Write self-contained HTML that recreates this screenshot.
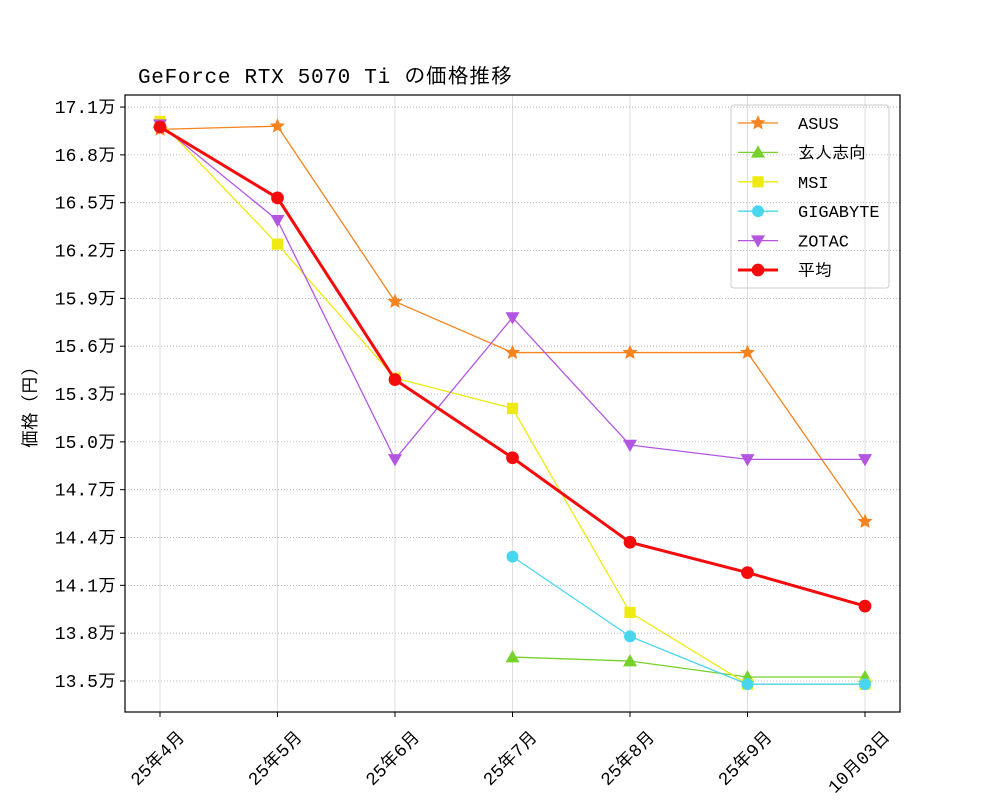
<!DOCTYPE html>
<html><head><meta charset="utf-8"><style>
body{margin:0;background:#fff}
svg text{font-family:"Liberation Mono","IPAGothic","Noto Sans CJK JP",monospace;fill:#000}
</style></head><body>
<svg id="chart" width="1000" height="800" xmlns="http://www.w3.org/2000/svg">
<rect width="1000" height="800" fill="#fff"/>
<g id="grid"></g><g id="series"></g><g id="axes"></g>
</svg>
<script>
const categories=["25年4月","25年5月","25年6月","25年7月","25年8月","25年9月","10月03日"];
const yTicks=[13.5,13.8,14.1,14.4,14.7,15.0,15.3,15.6,15.9,16.2,16.5,16.8,17.1];
const asus=[16.96,16.98,15.88,15.56,15.56,15.56,14.50];
const kurouto=[null,null,null,13.65,13.625,13.525,13.525];
const msi=[17.01,16.24,15.40,15.21,13.93,13.48,13.48];
const gigabyte=[null,null,null,14.28,13.78,13.48,13.48];
const zotac=[16.99,16.39,14.89,15.78,14.98,14.89,14.89];
const average=[16.975,16.53,15.39,14.90,14.37,14.18,13.97];
const seriesNames=["ASUS","玄人志向","MSI","GIGABYTE","ZOTAC","平均"];

const NS="http://www.w3.org/2000/svg";
const L=125,R=900,T=95,B=712;
const xs=i=>160+i*(865-160)/(categories.length-1);
const ys=v=>681-(v-13.5)/0.3*47.83;
function mk(tag,attrs,parent){const e=document.createElementNS(NS,tag);for(const k in attrs)e.setAttribute(k,attrs[k]);parent.appendChild(e);return e;}
const grid=document.getElementById('grid'),ser=document.getElementById('series'),ax=document.getElementById('axes');
categories.forEach((c,i)=>{
 const g=mk('line',{x1:xs(i),x2:xs(i),y1:T,y2:B,stroke:'#ddd','stroke-width':1},grid);
 
 mk('line',{x1:xs(i),x2:xs(i),y1:B,y2:B+5,stroke:'#000'},ax);
 const t=mk('text',{x:0,y:0,'font-size':18,'text-anchor':'end',transform:`translate(${xs(i)+26},${B+26}) rotate(-45)`},ax);
 t.textContent=c;
});
yTicks.forEach(v=>{
 const g=mk('line',{x1:L,x2:R,y1:ys(v),y2:ys(v),stroke:'#aaa','stroke-width':0.8,'stroke-dasharray':'1,2'},grid);
 
 mk('line',{x1:L-5,x2:L,y1:ys(v),y2:ys(v),stroke:'#000'},ax);
 const t=mk('text',{x:L-9,y:ys(v)+6,'font-size':18,'text-anchor':'end'},ax);
 t.textContent=v.toFixed(1)+"万";
});
const fr=mk('rect',{x:L,y:T,width:R-L,height:B-T,fill:'none',stroke:'#000','stroke-width':1.2},ax);

const tt=mk('text',{x:138,y:83,'font-size':21,textLength:374},ax);tt.textContent="GeForce RTX 5070 Ti の価格推移";

const yt=mk('text',{x:0,y:0,'font-size':18,'text-anchor':'middle',transform:'translate(36,403) rotate(-90)'},ax);yt.textContent="価格（円）";


function marker(type,x,y,color,s,parent){
 let e;
 if(type==='star'){let p=[];for(let k=0;k<10;k++){const r=k%2?s*0.45:s;const a=-Math.PI/2+k*Math.PI/5;p.push((x+r*Math.cos(a)).toFixed(1)+','+(y+r*Math.sin(a)).toFixed(1));}e=mk('polygon',{points:p.join(' '),fill:color},parent);}
 else if(type==='tri')e=mk('polygon',{points:`${x},${y-s} ${x-s},${y+s*0.75} ${x+s},${y+s*0.75}`,fill:color},parent);
 else if(type==='tridown')e=mk('polygon',{points:`${x},${y+s} ${x-s},${y-s*0.75} ${x+s},${y-s*0.75}`,fill:color},parent);
 else if(type==='sq')e=mk('rect',{x:x-s*0.8,y:y-s*0.8,width:s*1.6,height:s*1.6,fill:color},parent);
 else e=mk('circle',{cx:x,cy:y,r:s*0.85,fill:color},parent);
 return e;
}
const defs=[[asus,'#f5831f','star',1.3,8],[kurouto,'#76d12a','tri',1.3,7],[msi,'#eeea12','sq',1.3,7],[gigabyte,'#48d6ee','circ',1.3,7],[zotac,'#b455e2','tridown',1.3,7],[average,'#f40c0c','circ',3,7.5]];
defs.forEach((d,si)=>{
 const [vals,color,m,w,s]=d;
 const g=mk('g',{},ser);
 const pts=[];vals.forEach((v,i)=>{if(v!==null)pts.push([xs(i),ys(v)]);});
 mk('polyline',{points:pts.map(p=>p.join(',')).join(' '),fill:'none',stroke:color,'stroke-width':w},g);
 pts.forEach(p=>{const e=marker(m,p[0],p[1],color,s,g);});
 const ly=123+si*29.4;
 mk('line',{x1:738,x2:778,y1:ly,y2:ly,stroke:color,'stroke-width':w},ax);
 marker(m,758,ly,color,s,ax);
 const lt=mk('text',{x:798,y:ly+6,'font-size':17},ax);lt.textContent=seriesNames[si];
 
});
const lb=mk('rect',{x:731,y:105,width:158,height:183,rx:3,fill:'none',stroke:'#ccc'},ax);

</script>
</body></html>
